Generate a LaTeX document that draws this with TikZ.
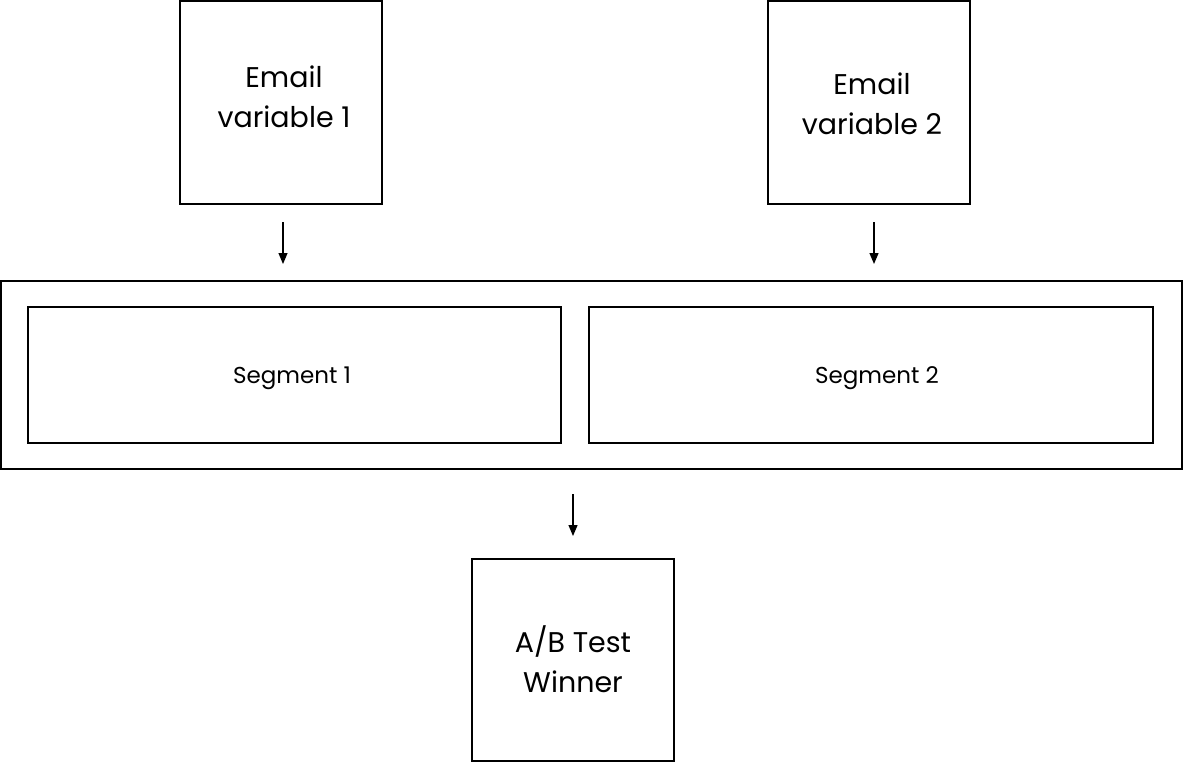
\documentclass[tikz,border=0pt]{standalone}
\usepackage{fontspec}
\setmainfont{Poppins}
\usetikzlibrary{arrows.meta}
\begin{document}
\begin{tikzpicture}[x=1pt,y=-1pt,
  box/.style={draw=black,line width=1.6pt,fill=white},
  bigtext/.style={font=\fontsize{28.5}{40}\selectfont,align=center},
  segtext/.style={font=\fontsize{23}{26}\selectfont},
  arr/.style={-{Triangle[width=9pt,length=11pt]},line width=1.2pt}]
\useasboundingbox (0,0) rectangle (1183,763);
\draw[box] (1,281) rectangle (1182,469);
\node[box,minimum width=533pt,minimum height=136pt] (s1) at (294.5,375) {};
\node[segtext] at (292,378) {Segment 1};
\node[box,minimum width=564pt,minimum height=136pt] (s2) at (871,375) {};
\node[segtext] at (877,378) {Segment 2};
\node[box,minimum width=202pt,minimum height=203pt] (e1) at (281,102.5) {};
\node[bigtext] at (284,97) {Email\\variable 1};
\node[box,minimum width=202pt,minimum height=203pt] (e2) at (869,102.5) {};
\node[bigtext] at (872,104) {Email\\variable 2};
\node[box,minimum width=202pt,minimum height=202pt] (w) at (573,660) {};
\node[bigtext] at (573,659) {A/B Test\\Winner};
\coordinate (a1s) at (283,222); \coordinate (a1e) at (283,264);
\coordinate (a2s) at (874,222); \coordinate (a2e) at (874,264);
\coordinate (a3s) at (573,494); \coordinate (a3e) at (573,536);
\draw[arr] (a1s) -- (a1e);
\draw[arr] (a2s) -- (a2e);
\draw[arr] (a3s) -- (a3e);
\end{tikzpicture}
\end{document}
